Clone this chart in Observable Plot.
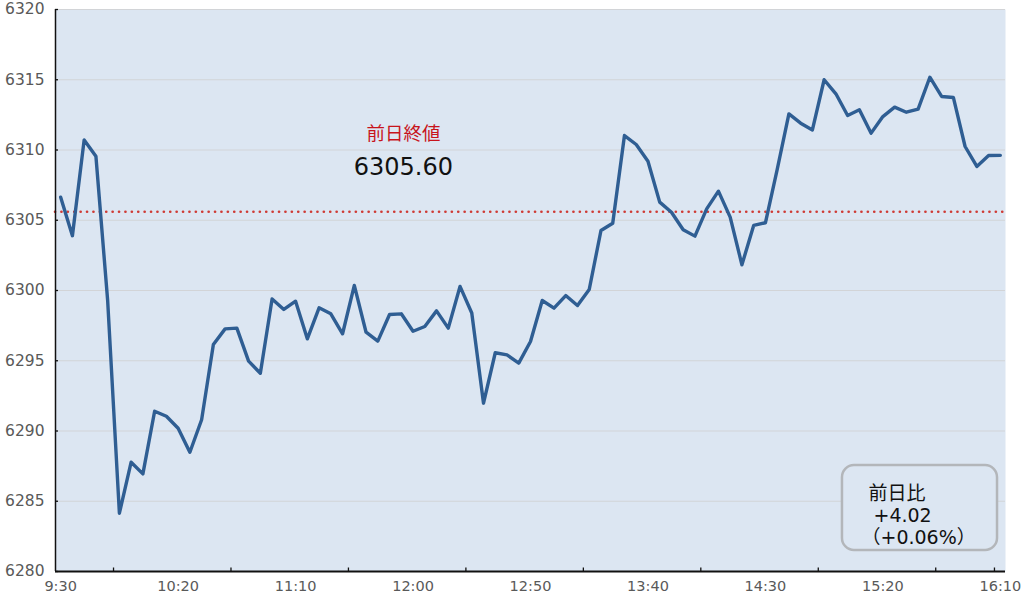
<!DOCTYPE html>
<html><head><meta charset="utf-8">
<script src="https://cdn.jsdelivr.net/npm/d3@7"></script>
<script src="https://cdn.jsdelivr.net/npm/@observablehq/plot@0.6"></script>
<style>
body{margin:0;background:#fff;}
#chart{width:1030px;height:595px;}
</style>
</head><body><div id="chart"></div>
<script>
const times = ["9:30","9:35","9:40","9:45","9:50","9:55",
"10:00","10:05","10:10","10:15","10:20","10:25","10:30","10:35","10:40","10:45","10:50","10:55",
"11:00","11:05","11:10","11:15","11:20","11:25","11:30","11:35","11:40","11:45","11:50","11:55",
"12:00","12:05","12:10","12:15","12:20","12:25","12:30","12:35","12:40","12:45","12:50","12:55",
"13:00","13:05","13:10","13:15","13:20","13:25","13:30","13:35","13:40","13:45","13:50","13:55",
"14:00","14:05","14:10","14:15","14:20","14:25","14:30","14:35","14:40","14:45","14:50","14:55",
"15:00","15:05","15:10","15:15","15:20","15:25","15:30","15:35","15:40","15:45","15:50","15:55",
"16:00","16:05","16:10"];
const values = [6306.64,6303.90,6310.72,6309.56,6299.29,6284.15,
6287.78,6286.95,6291.41,6291.05,6290.20,6288.49,6290.80,6296.16,6297.27,6297.32,6294.97,6294.11,
6299.40,6298.65,6299.24,6296.56,6298.77,6298.34,6296.92,6300.36,6297.03,6296.40,6298.29,6298.34,
6297.10,6297.44,6298.55,6297.32,6300.29,6298.40,6291.98,6295.57,6295.42,6294.83,6296.37,6299.29,
6298.74,6299.64,6298.93,6300.07,6304.27,6304.79,6311.03,6310.39,6309.20,6306.29,6305.57,6304.32,
6303.87,6305.81,6307.07,6305.22,6301.83,6304.63,6304.82,6308.60,6312.57,6311.91,6311.43,6315.00,
6314.00,6312.46,6312.86,6311.20,6312.38,6313.05,6312.69,6312.91,6315.18,6313.81,6313.74,6310.25,
6308.83,6309.61,6309.62];
const prevClose = 6305.60;
const yTicks = [6280,6285,6290,6295,6300,6305,6310,6315,6320];
const xLabels = ["9:30","10:20","11:10","12:00","12:50","13:40","14:30","15:20","16:10"];
const xMinorTicks = ["9:52:30","10:42:30","11:32:30","12:22:30","13:12:30","14:02:30","14:52:30","15:42:30","16:07:30"];
const prevLabel = "前日終値";
const changeLines = ["前日比", "+4.02", "（+0.06%）"];

const toMin = s => { const p = s.split(":").map(Number); return p[0]*60 + p[1] + (p[2]||0)/60 - (9*60+30); };
const data = times.map((t,i) => ({m: toMin(t), v: values[i]}));
const xDomain = [-2.2, 402.2];
const yDomain = [6280, 6320];
const labelMins = xLabels.map(toMin);

// annotation anchors (data space)
const annX = 145.9, annY1 = 6311.1, annY2 = 6308.8;
const box = {x1: 332.8, x2: 398.8, y1: 6287.54, y2: 6281.5};
const boxTextY = [6285.55, 6283.99, 6282.42];
const boxTextDx = [26, 31, 19];

const font = "'DejaVu Sans', 'Noto Sans CJK JP', sans-serif";
const plot = Plot.plot({
  width: 1030, height: 595,
  marginLeft: 55, marginRight: 25, marginTop: 9, marginBottom: 24,
  style: {fontFamily: font, background: "transparent", overflow: "visible", fontSize: "15px"},
  x: {domain: xDomain},
  y: {domain: yDomain},
  marks: [
    Plot.frame({fill: "#dce6f2", stroke: null}),
    Plot.ruleY(yTicks.slice(1), {stroke: "#d2d4d7", strokeWidth: 1.2}),
    Plot.ruleY([prevClose], {stroke: "#cf3b35", strokeWidth: 2.6, strokeDasharray: "0.1 6.3", strokeLinecap: "round"}),
    Plot.line(data, {x: "m", y: "v", stroke: "#2f5e93", strokeWidth: 3.4, strokeLinejoin: "round"}),
    Plot.ruleX([xDomain[0]], {stroke: "#111", strokeWidth: 1.5}),
    Plot.ruleY([yDomain[0]], {stroke: "#111", strokeWidth: 1.8}),
    Plot.ruleX(xMinorTicks.map(toMin), {y1: yDomain[0], y2: yDomain[0], insetTop: -3.5, stroke: "#111", strokeWidth: 1.3}),
    Plot.ruleY(yTicks, {x1: xDomain[0], x2: xDomain[0], insetRight: -3, stroke: "#111", strokeWidth: 1.3}),
    Plot.axisY({ticks: yTicks, tickSize: 0, tickPadding: 11, fill: "#595959", fontSize: 15.5, tickFormat: d => String(d)}),
    Plot.axisX({ticks: labelMins, tickSize: 0, tickPadding: 9, fill: "#595959", fontSize: 14.5, tickFormat: d => xLabels[labelMins.indexOf(d)]}),
    Plot.text([prevLabel], {x: annX, y: annY1, text: d => d, fill: "#c8141c", fontSize: 18.5, fontFamily: "'Noto Sans CJK JP', sans-serif"}),
    Plot.text([prevClose.toFixed(2)], {x: annX, y: annY2, text: d => d, fill: "#111", fontSize: 24}),
    Plot.rect([box], {x1: "x1", x2: "x2", y1: "y1", y2: "y2", rx: 12, fill: "#dce6f2", stroke: "#b3b6ba", strokeWidth: 2.5}),
    ...changeLines.map((t, i) => Plot.text([t], {x: box.x1, y: boxTextY[i], text: d => d, textAnchor: "start", dx: boxTextDx[i], fill: "#111", fontSize: 19}))
  ]
});
document.getElementById("chart").appendChild(plot);
</script>
</body></html>
